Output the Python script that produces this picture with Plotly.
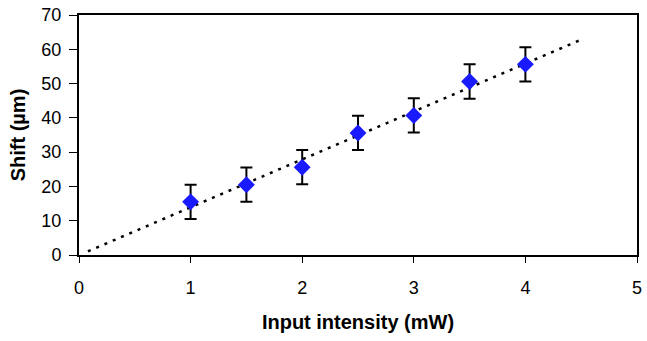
import numpy as np
import plotly.graph_objects as go

intensity = [1.0, 1.5, 2.0, 2.5, 3.0, 3.5, 4.0]
shift = [15.5, 20.5, 25.6, 35.6, 40.7, 50.6, 55.6]
shift_err = [5, 5, 5, 5, 5, 5, 5]
x_ticks = [0, 1, 2, 3, 4, 5]
y_ticks = [0, 10, 20, 30, 40, 50, 60, 70]
trend_range = [0.08, 4.5]

slope, intercept = np.polyfit(intensity, shift, 1)
trend_x = np.array(trend_range)
trend_y = slope * trend_x + intercept

fig = go.Figure()
fig.add_trace(go.Scatter(
    x=trend_x, y=trend_y, mode="lines",
    line=dict(color="black", width=2.5, dash="3px,6px"),
    showlegend=False, hoverinfo="skip",
))
fig.add_trace(go.Scatter(
    x=intensity, y=shift, mode="markers",
    marker=dict(symbol="diamond", size=13, color="#1a1aff"),
    error_y=dict(type="data", array=shift_err, visible=True,
                 color="black", thickness=2, width=6),
    showlegend=False,
))

font = "Liberation Sans, Arial, sans-serif"
fig.update_layout(
    width=647, height=341,
    margin=dict(l=79, r=5, t=13, b=86),
    paper_bgcolor="white", plot_bgcolor="white",
    font=dict(family=font, size=18, color="black"),
    xaxis=dict(
        range=[0, 5], tickvals=x_ticks, ticks="outside", ticklen=6,
        tickcolor="black", tickwidth=1, showgrid=False, zeroline=False,
        showline=True, linecolor="black", linewidth=2, mirror=True,
        ticklabelstandoff=9, ticklabeloverflow="allow",
        title=dict(text="<b>Input intensity (mW)</b>", standoff=18,
                   font=dict(size=20)),
    ),
    yaxis=dict(
        range=[0, 70], tickvals=y_ticks, ticks="outside", ticklen=8,
        tickcolor="black", tickwidth=1, showgrid=False, zeroline=False,
        showline=True, linecolor="black", linewidth=2, mirror=True,
        ticklabelstandoff=4,
        title=dict(text="<b>Shift (µm)</b>", standoff=10,
                   font=dict(size=20)),
    ),
)
fig.write_html("out.html", config={"displayModeBar": False},
               post_script="document.body.style.margin='0';")
